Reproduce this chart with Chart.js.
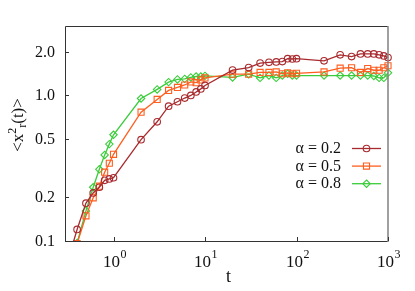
<!DOCTYPE html>
<html><head><meta charset="utf-8">
<script src="https://cdn.jsdelivr.net/npm/chart.js@4/dist/chart.umd.min.js"></script>
<style>html,body{margin:0;padding:0;background:#fff;}#wrap{width:415px;height:291px;}</style>
</head><body><div id="wrap"><canvas id="c" width="415" height="291"></canvas></div>
<script>
// ---- data ----
const times = [0.3,0.4,0.5,0.6,0.7,0.8,0.9,1,2,3,4,5,6,7,8,9,10,20,30,40,50,60,70,80,90,100,200,300,400,500,600,700,800,900,1000];
const msdAlpha02 = [0.065,0.12,0.182,0.214,0.234,0.261,0.267,0.272,
  0.497,0.659,0.844,0.905,0.96,1.0,1.057,1.109,1.172,
  1.494,1.555,1.67,1.69,1.70,1.71,1.79,1.78,1.79,
  1.73,1.90,1.85,1.93,1.93,1.93,1.90,1.87,1.82];
const msdAlpha05 = [0.05,0.096,0.149,0.198,0.238,0.297,0.342,0.394,
  0.767,0.939,1.083,1.135,1.18,1.239,1.224,1.279,1.32,
  1.40,1.40,1.44,1.44,1.45,1.41,1.43,1.41,1.42,
  1.45,1.54,1.55,1.44,1.53,1.49,1.49,1.55,1.60];
const msdAlpha08 = [0.05,0.097,0.161,0.234,0.311,0.390,0.463,0.537,
  0.953,1.10,1.235,1.289,1.30,1.33,1.35,1.35,1.363,
  1.33,1.40,1.32,1.37,1.32,1.37,1.41,1.37,1.37,
  1.37,1.37,1.37,1.37,1.37,1.36,1.32,1.32,1.43];
const seriesLabels = ['α = 0.2','α = 0.5','α = 0.8'];
const yTickValues = [0.1,0.2,0.5,1.0,2.0];
const yTickLabels = ['0.1','0.2','0.5','1.0','2.0'];
const xTickValues = [1,10,100,1000];
const xTickExponents = ['0','1','2','3'];
const xTitle = 't';

const colors = ['#a82a2e','#ff5e1f','#3acc3a'];
const styles = ['circle','rect','rectRot'];
const radii = [3.3,4.3,3.7];
const seriesValues = [msdAlpha02,msdAlpha05,msdAlpha08];

const FONT = '"Liberation Serif","Times New Roman",serif';

function marker(ctx, style, x, y, r, color){
  ctx.save();
  ctx.strokeStyle = color; ctx.lineWidth = 1.1;
  ctx.beginPath();
  if (style==='circle'){ ctx.arc(x,y,r,0,Math.PI*2); }
  else if (style==='rect'){ const s=r*Math.SQRT1_2; ctx.rect(x-s,y-s,2*s,2*s); }
  else { ctx.moveTo(x,y-r); ctx.lineTo(x+r,y); ctx.lineTo(x,y+r); ctx.lineTo(x-r,y); ctx.closePath(); }
  ctx.stroke();
  ctx.restore();
}

const decor = {
  id:'decor',
  afterDraw(chart){
    const ctx = chart.ctx, a = chart.chartArea;
    const xs = chart.scales.x, ys = chart.scales.y;
    ctx.save();
    // frame
    ctx.lineWidth = 1;
    ctx.strokeStyle = '#333';
    ctx.beginPath();
    ctx.moveTo(a.left+0.5, a.bottom+0.5); ctx.lineTo(a.left+0.5, a.top+0.5); ctx.lineTo(a.right, a.top+0.5);
    ctx.moveTo(a.left, a.bottom+0.5); ctx.lineTo(a.right, a.bottom+0.5);
    ctx.stroke();
    ctx.strokeStyle = '#888'; ctx.lineWidth = 1.6;
    ctx.beginPath(); ctx.moveTo(a.right, a.top); ctx.lineTo(a.right, a.bottom+1); ctx.stroke();
    // y ticks
    ctx.strokeStyle = '#333'; ctx.lineWidth = 1;
    ctx.fillStyle = '#111';
    ctx.font = '16px ' + FONT;
    ctx.textAlign = 'right'; ctx.textBaseline = 'middle';
    yTickValues.forEach((v,i)=>{
      const y = Math.round(ys.getPixelForValue(v))+0.5;
      ctx.beginPath(); ctx.moveTo(a.left, y); ctx.lineTo(a.left+4, y); ctx.stroke();
      ctx.fillText(yTickLabels[i], a.left-10, y+0.5);
    });
    // x ticks
    xTickValues.forEach((v,i)=>{
      const x = Math.round(xs.getPixelForValue(v))+0.5;
      ctx.beginPath(); ctx.moveTo(x, a.bottom); ctx.lineTo(x, a.bottom-4); ctx.stroke();
      ctx.font = '17px ' + FONT;
      const w1 = ctx.measureText('10').width;
      ctx.font = '12px ' + FONT;
      const w2 = ctx.measureText(xTickExponents[i]).width;
      const x0 = x - (w1+w2)/2;
      ctx.textAlign = 'left'; ctx.textBaseline = 'alphabetic';
      ctx.font = '17px ' + FONT;
      ctx.fillText('10', x0, 266.5);
      ctx.font = '12px ' + FONT;
      ctx.fillText(xTickExponents[i], x0+w1+0.5, 258);
    });
    // x title
    ctx.font = '18px ' + FONT; ctx.textAlign='center'; ctx.textBaseline='alphabetic';
    ctx.fillText(xTitle, (a.left+a.right)/2 + 2, 282);
    // y title
    ctx.save();
    ctx.translate(23, 125);
    ctx.rotate(-Math.PI/2);
    const parts = [['<x',17,0],['2',12,-7],['r',12,3],['(t)>',17,0]];
    let tot = 0;
    parts.forEach(p=>{ ctx.font = p[1]+'px '+FONT; p.push(ctx.measureText(p[0]).width); tot += p[3]; });
    let cx = -tot/2;
    ctx.textAlign='left'; ctx.textBaseline='alphabetic';
    parts.forEach(p=>{ ctx.font = p[1]+'px '+FONT; ctx.fillText(p[0], cx, p[2]); cx += p[3]; });
    ctx.restore();
    // legend
    ctx.font = '16px ' + FONT; ctx.textAlign='right'; ctx.textBaseline='middle';
    seriesLabels.forEach((lab,i)=>{
      const y = 148.5 + i*17.6;
      ctx.fillStyle = '#111';
      ctx.fillText(lab, 341, y+0.5);
      ctx.strokeStyle = colors[i]; ctx.lineWidth = 1.3;
      ctx.beginPath(); ctx.moveTo(352, y); ctx.lineTo(381, y); ctx.stroke();
      marker(ctx, styles[i], 366.5, y, radii[i], colors[i]);
    });
    ctx.restore();
  }
};

const datasets = seriesValues.map((vals,i)=>({
  label: seriesLabels[i],
  data: times.map((t,j)=>({x:t, y:vals[j]})),
  borderColor: colors[i],
  backgroundColor: 'rgba(0,0,0,0)',
  borderWidth: 1.3,
  pointStyle: styles[i],
  pointRadius: radii[i],
  pointBorderWidth: 1.1,
  pointBorderColor: colors[i],
  pointBackgroundColor: 'rgba(0,0,0,0)',
  fill: false,
  tension: 0,
  clip: {left:0, top:8, right:8, bottom:0}
}));

new Chart(document.getElementById('c').getContext('2d'), {
  type: 'line',
  data: { datasets },
  options: {
    responsive: false,
    animation: false,
    events: [],
    layout: { padding: { left: 65, right: 27, top: 26, bottom: 50 } },
    scales: {
      x: { type: 'logarithmic', min: 0.295, max: 1000, display: false },
      y: { type: 'logarithmic', min: 0.1, max: 3.0, display: false }
    },
    plugins: { legend: { display: false }, tooltip: { enabled: false } }
  },
  plugins: [decor]
});
</script>
</body></html>
